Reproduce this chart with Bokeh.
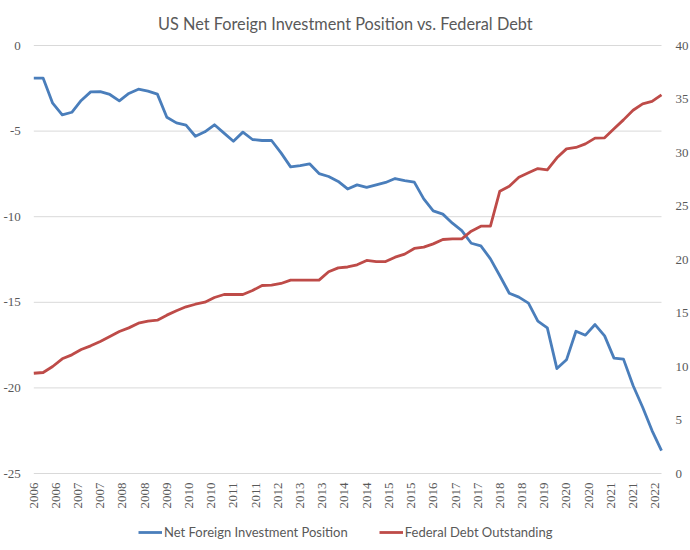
import math
import pandas as pd
from bokeh.plotting import figure
from bokeh.models import (Range1d, Legend, LegendItem, LabelSet, ColumnDataSource)
from bokeh.embed import file_html
from bokeh.resources import INLINE

# Quarterly observations, 2006 Q1 .. 2022 Q3
start_quarter = "2006-01-01"
n_quarters = 67

net_foreign_investment = [
    -1.91, -1.91, -3.37, -4.05, -3.90, -3.21, -2.71, -2.69, -2.86, -3.23,
    -2.80, -2.55, -2.67, -2.84, -4.19, -4.52, -4.65, -5.30, -5.04, -4.63,
    -5.12, -5.59, -5.06, -5.49, -5.55, -5.55, -6.27, -7.09, -7.01, -6.91,
    -7.48, -7.65, -7.94, -8.38, -8.14, -8.29, -8.14, -8.00, -7.77, -7.89,
    -7.98, -8.96, -9.66, -9.85, -10.38, -10.81, -11.55, -11.70, -12.46, -13.45,
    -14.47, -14.70, -15.05, -16.10, -16.49, -18.87, -18.36, -16.69, -16.92, -16.30,
    -16.96, -18.26, -18.32, -19.86, -21.13, -22.49, -23.66,
]

federal_debt = [
    9.37, 9.44, 10.00, 10.72, 11.09, 11.59, 11.93, 12.34, 12.80, 13.27,
    13.61, 14.05, 14.24, 14.33, 14.80, 15.21, 15.58, 15.82, 16.01, 16.45,
    16.73, 16.73, 16.73, 17.10, 17.57, 17.60, 17.76, 18.07, 18.07, 18.07,
    18.07, 18.85, 19.22, 19.30, 19.50, 19.91, 19.81, 19.81, 20.22, 20.50,
    21.03, 21.15, 21.46, 21.87, 21.93, 21.93, 22.65, 23.11, 23.11, 26.38,
    26.85, 27.69, 28.10, 28.50, 28.38, 29.50, 30.34, 30.47, 30.81, 31.34,
    31.37, 32.21, 33.05, 33.95, 34.55, 34.77, 35.39,
]

# Date-axis labels: one every 7 months from Jan 2006
tick_start = "2006-01-01"
tick_step = "7MS"
tick_labels = ["2006", "2006", "2007", "2007", "2008", "2008", "2009", "2010",
               "2010", "2011", "2011", "2012", "2013", "2013", "2014", "2014",
               "2015", "2015", "2016", "2017", "2017", "2018", "2018", "2019",
               "2020", "2020", "2021", "2021", "2022"]

left_ticks = [-25, -20, -15, -10, -5, 0]
left_tick_labels = ["-25", "-20", "-15", "-10", "-5", "0"]
right_ticks = [0, 5, 10, 15, 20, 25, 30, 35, 40]
right_tick_labels = ["0", "5", "10", "15", "20", "25", "30", "35", "40"]

title_text = "US Net Foreign Investment Position vs. Federal Debt"
series_names = ["Net Foreign Investment Position", "Federal Debt Outstanding"]

dates = pd.date_range(start_quarter, periods=n_quarters, freq="QS")
x_ms = [t.value / 1e6 for t in dates]
tick_dates = pd.date_range(tick_start, periods=len(tick_labels), freq=tick_step)
tick_ms = [t.value / 1e6 for t in tick_dates]

FONT = "Lato"
TXT = "#595959"
GRID = "#D9D9D9"
BLUE = "#4A7EBB"
RED = "#BE4B48"

# Layout: the frame fills the figure below the title; axes, date labels and
# legend are drawn inside it so nothing is clipped.
W, H = 690, 550
TOP = 35
pad_left_px, pad_right_px = 33.3, 29.0
ms_per_px = (x_ms[-1] - x_ms[0]) / (W - pad_left_px - pad_right_px)
x_lo = x_ms[0] - pad_left_px * ms_per_px
x_hi = x_ms[-1] + pad_right_px * ms_per_px

left_lo, left_hi = min(left_ticks), max(left_ticks)
px_per_unit = 17.12
gap_top_px = 10
y_hi = left_hi + gap_top_px / px_per_unit
y_lo = left_lo - (H - TOP - gap_top_px - (left_hi - left_lo) * px_per_unit) / px_per_unit


def to_right(v):
    return min(right_ticks) + (v - left_lo) * (max(right_ticks) - min(right_ticks)) / (left_hi - left_lo)


p = figure(width=W, height=H, output_backend="svg", toolbar_location=None,
           x_axis_location=None, y_axis_location=None,
           x_range=Range1d(x_lo, x_hi), y_range=Range1d(y_lo, y_hi),
           min_border_top=TOP, min_border_left=0, min_border_right=0,
           min_border_bottom=0)
p.extra_y_ranges = {"debt": Range1d(to_right(y_lo), to_right(y_hi))}
p.grid.visible = False
p.outline_line_color = None

p.title.text = title_text
p.title.align = "center"
p.title.text_font = FONT
p.title.text_font_size = "16.3px"
p.title.text_font_style = "normal"
p.title.text_color = TXT
p.title.standoff = 6

# horizontal gridlines across the plot area
p.segment(x0=[x_ms[0]] * len(left_ticks), x1=[x_ms[-1]] * len(left_ticks),
          y0=left_ticks, y1=left_ticks, line_color=GRID, line_width=1)

r1 = p.line(x_ms, net_foreign_investment, line_color=BLUE, line_width=2.8,
            line_join="round")
r2 = p.line(x_ms, federal_debt, line_color=RED, line_width=2.8,
            line_join="round", y_range_name="debt")

# left axis labels
left_src = ColumnDataSource(dict(x=[x_ms[0]] * len(left_ticks), y=left_ticks,
                                 text=left_tick_labels))
p.add_layout(LabelSet(x="x", y="y", text="text", source=left_src,
                      x_offset=-13, text_align="right", text_baseline="middle",
                      text_font=FONT, text_font_size="13px", text_color=TXT))

# right axis labels
right_src = ColumnDataSource(dict(x=[x_ms[-1]] * len(right_ticks), y=right_ticks,
                                  text=right_tick_labels))
p.add_layout(LabelSet(x="x", y="y", text="text", source=right_src,
                      y_range_name="debt",
                      x_offset=14, text_align="left", text_baseline="middle",
                      text_font=FONT, text_font_size="13px", text_color=TXT))

# date labels under the lowest gridline, reading bottom-to-top
date_src = ColumnDataSource(dict(x=tick_ms, y=[left_lo] * len(tick_ms),
                                 text=tick_labels))
p.add_layout(LabelSet(x="x", y="y", text="text", source=date_src,
                      angle=math.pi / 2, text_align="right",
                      text_baseline="middle", y_offset=-9,
                      text_font=FONT, text_font_size="13px", text_color=TXT))

legend = Legend(items=[LegendItem(label=series_names[0], renderers=[r1]),
                       LegendItem(label=series_names[1], renderers=[r2])],
                orientation="horizontal", location=(138, 10))
legend.border_line_color = None
legend.background_fill_alpha = 0
legend.label_text_font = FONT
legend.label_text_font_size = "13px"
legend.label_text_color = TXT
legend.glyph_width = 24
legend.glyph_height = 16
legend.label_height = 16
legend.spacing = 31
legend.label_standoff = 2
legend.margin = 0
legend.padding = 0
p.add_layout(legend, "center")

open("out.html", "w").write(file_html(p, INLINE))
